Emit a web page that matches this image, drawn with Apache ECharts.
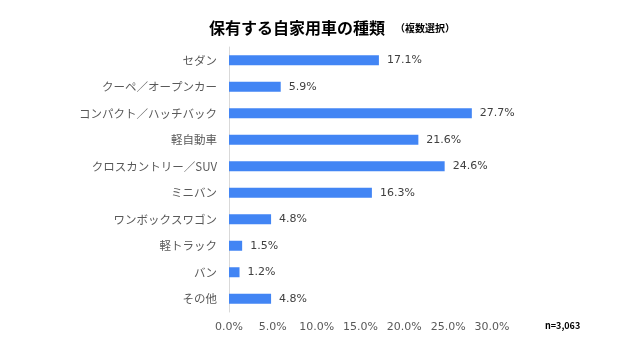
<!DOCTYPE html>
<html><head><meta charset="utf-8">
<script src="https://cdn.jsdelivr.net/npm/echarts@6/dist/echarts.min.js"></script>
<style>html,body{margin:0;padding:0;background:#fff}#c{width:642px;height:340px}</style>
</head><body><div id="c"></div>
<script>
const categories = ['セダン','クーペ／オープンカー','コンパクト／ハッチバック','軽自動車','クロスカントリー／SUV','ミニバン','ワンボックスワゴン','軽トラック','バン','その他'];
const values = [17.1, 5.9, 27.7, 21.6, 24.6, 16.3, 4.8, 1.5, 1.2, 4.8];
const xTicks = [0, 5, 10, 15, 20, 25, 30];
const chart = echarts.init(document.getElementById('c'));
const font = '"Noto Sans CJK JP", "Noto Sans", sans-serif';
const numFont = '"DejaVu Sans", "Noto Sans CJK JP", sans-serif';
chart.setOption({
  animation: false,
  title: {
    text: '{a|保有する自家用車の種類}  {b|（複数選択）}',
    left: 204, top: 14,
    textStyle: {
      rich: {
        a: {fontSize: 16, fontWeight: 'bold', color: '#000', fontFamily: font},
        b: {fontSize: 10, fontWeight: 'bold', color: '#000', fontFamily: font}
      }
    }
  },
  graphic: [{type: 'text', left: 545, top: 321, style: {text: 'n=3,063', fontSize: 9, fontWeight: 'bold', fill: '#000', fontFamily: font}}],
  grid: {left: 229, right: 150, top: 47, bottom: 28, containLabel: false},
  xAxis: {
    type: 'value', min: xTicks[0], max: xTicks[xTicks.length-1], interval: 5,
    axisLine: {show: false}, axisTick: {show: false}, splitLine: {show: false},
    axisLabel: {formatter: v => v.toFixed(1) + '%', color: '#595959', fontSize: 11, margin: 10, fontFamily: numFont}
  },
  yAxis: {
    type: 'category', data: categories, inverse: true,
    axisLine: {lineStyle: {color: '#d9d9d9'}}, axisTick: {show: false},
    axisLabel: {color: '#595959', fontSize: 11.5, margin: 12, fontFamily: font}
  },
  series: [{
    type: 'bar', data: values, barWidth: 10,
    itemStyle: {color: '#4285f4'},
    label: {show: true, position: 'right', distance: 8, formatter: p => p.value.toFixed(1) + '%', color: '#404040', fontSize: 11, fontFamily: numFont}
  }]
});
</script></body></html>
